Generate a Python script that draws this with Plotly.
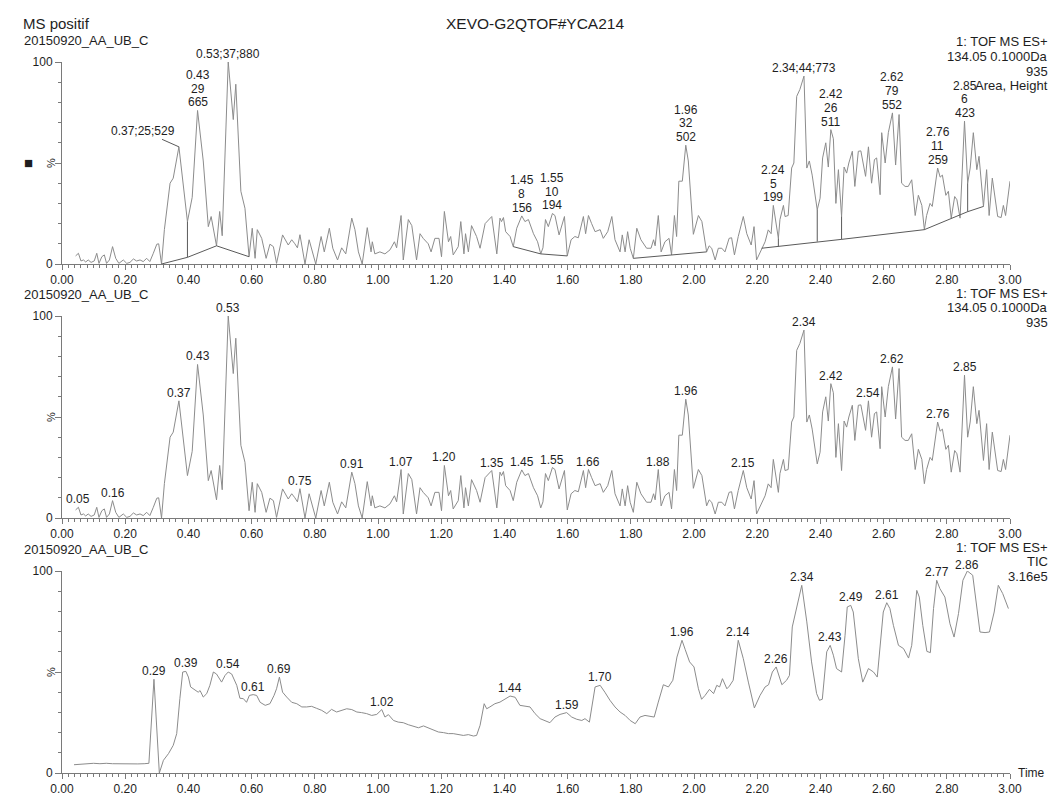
import numpy as np
import plotly.graph_objects as go

W, H = 1057, 796

# ---------------- data ----------------
# Extracted ion chromatogram 134.05 (panels 1 and 2), time (min) / relative intensity (%)
xic_time = [0.043, 0.052, 0.060, 0.068, 0.075, 0.083, 0.092, 0.102, 0.110, 0.117, 0.126, 0.134, 0.141, 0.150,
            0.160, 0.170, 0.180, 0.194, 0.205, 0.215, 0.226, 0.236, 0.247, 0.257, 0.268, 0.278, 0.289, 0.300,
            0.306, 0.315, 0.324, 0.342, 0.352, 0.370, 0.397, 0.412, 0.429, 0.440, 0.447, 0.463, 0.472, 0.489,
            0.499, 0.507, 0.526, 0.542, 0.550, 0.566, 0.579, 0.592, 0.602, 0.611, 0.618, 0.632, 0.646, 0.658,
            0.669, 0.679, 0.698, 0.716, 0.727, 0.737, 0.745, 0.753, 0.769, 0.782, 0.793, 0.803, 0.820, 0.830,
            0.846, 0.857, 0.872, 0.885, 0.898, 0.917, 0.927, 0.938, 0.950, 0.966, 0.978, 0.982, 0.990, 1.006,
            1.022, 1.038, 1.052, 1.059, 1.073, 1.080, 1.096, 1.107, 1.122, 1.133, 1.143, 1.159, 1.168, 1.180,
            1.193, 1.201, 1.210, 1.223, 1.230, 1.238, 1.254, 1.262, 1.272, 1.277, 1.286, 1.296, 1.312, 1.323,
            1.339, 1.355, 1.360, 1.376, 1.386, 1.391, 1.397, 1.404, 1.418, 1.428, 1.439, 1.455, 1.465, 1.476,
            1.492, 1.505, 1.515, 1.522, 1.530, 1.539, 1.552, 1.560, 1.573, 1.590, 1.599, 1.611, 1.623, 1.634,
            1.650, 1.657, 1.666, 1.676, 1.687, 1.703, 1.713, 1.727, 1.740, 1.750, 1.766, 1.773, 1.782, 1.790,
            1.798, 1.808, 1.819, 1.832, 1.850, 1.864, 1.872, 1.877, 1.887, 1.896, 1.908, 1.921, 1.929, 1.938,
            1.945, 1.952, 1.963, 1.974, 1.982, 1.998, 2.014, 2.025, 2.040, 2.048, 2.056, 2.067, 2.077, 2.088,
            2.098, 2.111, 2.119, 2.128, 2.140, 2.156, 2.167, 2.181, 2.190, 2.198, 2.214, 2.225, 2.235, 2.244,
            2.251, 2.259, 2.267, 2.272, 2.283, 2.288, 2.298, 2.309, 2.316, 2.325, 2.335, 2.348, 2.357, 2.365,
            2.374, 2.390, 2.399, 2.407, 2.417, 2.425, 2.433, 2.441, 2.449, 2.457, 2.467, 2.475, 2.483, 2.490,
            2.501, 2.509, 2.520, 2.528, 2.536, 2.543, 2.552, 2.562, 2.571, 2.578, 2.589, 2.594, 2.605, 2.615,
            2.628, 2.638, 2.649, 2.657, 2.668, 2.678, 2.689, 2.700, 2.710, 2.721, 2.729, 2.736, 2.747, 2.754,
            2.771, 2.779, 2.786, 2.797, 2.805, 2.814, 2.825, 2.832, 2.842, 2.856, 2.866, 2.874, 2.884, 2.895,
            2.902, 2.916, 2.926, 2.934, 2.944, 2.953, 2.961, 2.972, 2.979, 2.986, 3.000]
xic_pct = [4.0, 5.3, 1.5, 2.0, 1.0, 2.0, 0.8, 1.5, 5.3, 0.3, 3.6, 4.5, 0.3, 2.0,
           8.6, 2.8, 0.3, 2.0, 0.3, 0.8, 2.5, 1.5, 2.0, 1.2, 2.8, 1.2, 5.3, 9.8,
           10.0, 0.0, 17.0, 40.0, 42.5, 58.0, 21.0, 33.0, 76.0, 62.0, 51.0, 18.5, 23.5, 9.0,
           26.0, 14.0, 100.0, 71.5, 89.0, 36.0, 27.6, 3.6, 17.7, 2.8, 17.0, 12.7, 2.8, 9.8,
           8.6, 0.3, 14.4, 9.4, 12.0, 10.0, 8.0, 14.5, 0.0, 12.0, 6.0, 0.0, 13.6, 6.0,
           17.7, 7.8, 2.0, 8.0, 5.0, 22.7, 17.0, 6.0, 0.0, 18.0, 6.0, 11.0, 5.0, 6.0,
           5.0, 7.0, 11.0, 8.0, 24.0, 2.0, 22.0, 19.0, 2.0, 15.0, 12.7, 10.0, 6.0, 12.7,
           12.7, 3.6, 26.0, 11.0, 13.6, 4.5, 8.6, 21.0, 5.0, 15.0, 6.0, 19.0, 13.6, 7.8,
           20.0, 22.7, 23.5, 5.0, 22.7, 21.0, 23.0, 16.0, 13.6, 8.6, 17.7, 23.8, 21.0, 22.0,
           15.0, 11.0, 5.0, 8.0, 22.0, 18.5, 25.0, 24.0, 14.4, 23.5, 4.0, 12.0, 13.6, 13.0,
           23.5, 15.0, 24.0, 20.0, 16.0, 17.0, 12.7, 16.0, 23.5, 12.0, 6.0, 14.4, 6.0, 16.0,
           7.8, 2.8, 17.7, 12.0, 7.8, 7.8, 12.0, 9.0, 24.0, 6.0, 11.0, 12.7, 4.5, 24.0,
           13.6, 41.0, 41.0, 58.8, 51.0, 14.7, 24.0, 21.0, 6.0, 9.0, 7.8, 2.0, 7.8, 7.8,
           6.0, 12.7, 13.0, 4.5, 13.6, 23.5, 15.0, 9.4, 18.5, 2.0, 7.8, 11.0, 16.9, 15.0,
           29.0, 21.0, 12.7, 22.0, 29.0, 23.5, 24.0, 47.5, 50.0, 83.0, 86.4, 93.0, 47.5, 51.0,
           44.0, 26.8, 32.6, 52.5, 60.0, 48.0, 66.5, 62.0, 30.0, 46.7, 23.5, 48.0, 45.0, 50.0,
           55.8, 38.4, 55.8, 56.0, 49.0, 43.4, 58.0, 40.0, 51.7, 52.5, 34.3, 65.0, 50.0, 65.0,
           74.8, 49.0, 74.0, 40.0, 38.4, 38.4, 41.7, 24.0, 34.0, 29.0, 17.0, 24.0, 30.0, 28.5,
           47.5, 43.0, 44.0, 34.0, 36.0, 22.7, 33.4, 31.8, 22.7, 70.7, 40.0, 47.5, 65.0, 46.7,
           53.3, 28.5, 46.7, 24.0, 42.5, 33.4, 23.5, 23.0, 29.0, 24.0, 41.0]

# TIC (panel 3)
tic_time = [0.038, 0.060, 0.080, 0.100, 0.120, 0.140, 0.160, 0.180, 0.200, 0.220, 0.240, 0.260, 0.275, 0.291,
            0.308, 0.321, 0.337, 0.352, 0.363, 0.373, 0.382, 0.392, 0.400, 0.407, 0.421, 0.431, 0.437, 0.447,
            0.458, 0.468, 0.479, 0.489, 0.505, 0.516, 0.526, 0.537, 0.553, 0.563, 0.574, 0.584, 0.593, 0.605,
            0.616, 0.627, 0.643, 0.658, 0.671, 0.679, 0.688, 0.698, 0.711, 0.727, 0.743, 0.759, 0.774, 0.790,
            0.806, 0.822, 0.838, 0.853, 0.869, 0.885, 0.901, 0.917, 0.933, 0.948, 0.964, 0.980, 0.996, 1.012,
            1.022, 1.033, 1.049, 1.064, 1.080, 1.096, 1.112, 1.128, 1.144, 1.159, 1.175, 1.191, 1.207, 1.223,
            1.238, 1.254, 1.270, 1.286, 1.302, 1.312, 1.323, 1.336, 1.344, 1.354, 1.370, 1.386, 1.402, 1.418,
            1.434, 1.449, 1.481, 1.497, 1.513, 1.529, 1.544, 1.560, 1.576, 1.597, 1.613, 1.629, 1.645, 1.655,
            1.669, 1.687, 1.703, 1.718, 1.734, 1.750, 1.766, 1.782, 1.798, 1.814, 1.829, 1.845, 1.861, 1.874,
            1.887, 1.903, 1.919, 1.933, 1.946, 1.962, 1.972, 1.986, 2.000, 2.014, 2.024, 2.035, 2.049, 2.062,
            2.072, 2.081, 2.090, 2.104, 2.112, 2.124, 2.140, 2.156, 2.172, 2.191, 2.209, 2.225, 2.236, 2.248,
            2.260, 2.267, 2.278, 2.293, 2.302, 2.311, 2.325, 2.341, 2.357, 2.372, 2.388, 2.397, 2.406, 2.420,
            2.431, 2.441, 2.451, 2.467, 2.478, 2.485, 2.496, 2.504, 2.520, 2.534, 2.541, 2.552, 2.568, 2.580,
            2.599, 2.610, 2.620, 2.631, 2.647, 2.663, 2.679, 2.689, 2.705, 2.713, 2.724, 2.737, 2.748, 2.758,
            2.768, 2.778, 2.794, 2.810, 2.823, 2.837, 2.851, 2.865, 2.882, 2.895, 2.905, 2.921, 2.935, 2.950,
            2.963, 2.977, 2.995]
tic_pct = [4.1, 4.3, 4.6, 4.8, 4.6, 4.8, 4.6, 4.5, 4.5, 4.6, 4.5, 4.6, 4.8, 46.4,
           0.0, 6.3, 9.6, 13.7, 19.5, 36.8, 50.0, 50.3, 47.5, 42.6, 41.0, 40.0, 40.8, 37.6,
           39.3, 43.4, 50.0, 49.0, 45.0, 48.3, 50.0, 49.0, 43.4, 37.0, 36.8, 35.0, 38.4, 38.8,
           38.4, 35.0, 33.5, 34.3, 38.4, 41.7, 47.5, 40.0, 37.6, 35.0, 34.3, 32.7, 32.7, 33.0,
           32.0, 31.0, 29.4, 31.5, 30.2, 31.0, 31.8, 31.4, 30.2, 29.9, 29.4, 28.5, 29.0, 31.4,
           27.7, 28.9, 26.0, 25.2, 24.9, 23.9, 23.3, 22.4, 23.3, 22.3, 21.1, 20.3, 20.0, 19.5,
           19.5, 19.0, 18.6, 19.0, 18.3, 18.6, 23.6, 34.3, 31.8, 32.7, 34.3, 35.1, 36.8, 38.1,
           37.5, 33.5, 32.7, 29.4, 26.9, 26.0, 24.9, 27.7, 29.0, 29.9, 27.7, 26.6, 26.0, 26.9,
           25.2, 42.6, 43.4, 40.0, 36.0, 32.7, 30.2, 28.5, 26.0, 24.4, 27.7, 28.5, 28.2, 27.7,
           35.1, 43.7, 42.6, 45.9, 57.4, 65.7, 61.2, 55.0, 52.5, 41.7, 36.5, 38.4, 41.4, 39.3,
           43.4, 42.6, 46.7, 41.7, 43.0, 45.9, 65.7, 56.6, 45.0, 32.2, 38.4, 42.6, 43.7, 50.0,
           52.5, 49.0, 43.7, 45.9, 48.3, 72.3, 81.4, 92.9, 74.8, 55.0, 39.3, 36.0, 36.5, 60.0,
           63.2, 58.3, 51.7, 50.0, 68.2, 82.2, 83.0, 79.7, 56.6, 45.0, 47.5, 51.7, 50.0, 47.5,
           79.7, 84.3, 81.4, 73.1, 63.2, 61.6, 56.9, 63.2, 90.4, 87.1, 73.1, 60.2, 59.6, 81.4,
           95.4, 91.3, 87.1, 73.9, 67.3, 78.9, 95.4, 100.0, 97.9, 81.4, 69.8, 69.5, 69.8, 79.7,
           92.9, 88.8, 81.4]

# Peak labels
p1_peak_times = [0.37, 0.43, 0.53, 1.45, 1.55, 1.96, 2.24, 2.34, 2.42, 2.62, 2.76, 2.85]
p1_peak_texts = [["0.37;25;529"], ["0.43", "29", "665"], ["0.53;37;880"], ["1.45", "8", "156"],
                 ["1.55", "10", "194"], ["1.96", "32", "502"], ["2.24", "5", "199"], ["2.34;44;773"],
                 ["2.42", "26", "511"], ["2.62", "79", "552"], ["2.76", "11", "259"], ["2.85", "6", "423"]]
p2_peak_times = [0.05, 0.16, 0.37, 0.43, 0.53, 0.75, 0.91, 1.07, 1.20, 1.35, 1.45, 1.55, 1.66, 1.88,
                 1.96, 2.15, 2.34, 2.42, 2.54, 2.62, 2.76, 2.85]
tic_peak_times = [0.29, 0.39, 0.54, 0.61, 0.69, 1.02, 1.44, 1.59, 1.70, 1.96, 2.14, 2.26, 2.34, 2.43,
                  2.49, 2.61, 2.77, 2.86]

# Integration baselines in panel 1 (None separates segments)
bl_time = [0.315, 0.397, 0.489, 0.592, None, 1.428, 1.515, 1.599, None, 1.808, 2.040, None,
           2.214, 2.267, 2.390, 2.467, 2.729, 2.814, 2.866, 2.916]
bl_pct = [0.0, 3.3, 9.0, 3.6, None, 8.6, 5.0, 4.0, None, 2.8, 6.0, None,
          7.8, 8.7, 11.1, 12.2, 17.0, 22.7, 25.9, 28.5]
drop_time = [0.397, 2.267, 2.390, 2.467, 2.866]
drop_base = [3.3, 8.7, 11.1, 12.2, 25.9]

ticks_x = [round(0.2 * i, 2) for i in range(16)]

header_title = "XEVO-G2QTOF#YCA214"
header_left = "MS positif"
dataset_name = "20150920_AA_UB_C"
p1_info = ["1: TOF MS ES+", "134.05 0.1000Da", "935", "Area, Height"]
p2_info = ["1: TOF MS ES+", "134.05 0.1000Da", "935"]
p3_info = ["1: TOF MS ES+", "TIC", "3.16e5"]

# ---------------- style ----------------
FONT = "Arial, 'Liberation Sans', Helvetica, sans-serif"
TXT = "#1e1e1e"
AX = "#7a7a7a"
LINE = "#8c8c8c"
BASE = "#5a5a5a"

X_L, X_R = 62, 1010
panels = [  # (y pixel of 0, y pixel of 100)
    (264, 62),
    (518, 316),
    (773, 571),
]
info_top = [42, 293, 547]


def px_x(p):
    return p / W


def px_y(p):
    return 1 - p / H


fig = go.Figure()

xic_t = np.array(xic_time)
xic_v = np.array(xic_pct)
tic_t = np.array(tic_time)
tic_v = np.array(tic_pct)

# traces
fig.add_trace(go.Scatter(x=xic_t, y=xic_v, mode="lines", line=dict(color=LINE, width=1),
                         xaxis="x", yaxis="y", hoverinfo="skip"))
fig.add_trace(go.Scatter(x=bl_time, y=bl_pct, mode="lines", line=dict(color=BASE, width=1),
                         connectgaps=False, xaxis="x", yaxis="y", hoverinfo="skip"))
dx, dy = [], []
for t, b in zip(drop_time, drop_base):
    dx += [t, t, None]
    dy += [b, float(np.interp(t, xic_t, xic_v)), None]
fig.add_trace(go.Scatter(x=dx, y=dy, mode="lines", line=dict(color=BASE, width=1),
                         xaxis="x", yaxis="y", hoverinfo="skip"))
fig.add_trace(go.Scatter(x=xic_t, y=xic_v, mode="lines", line=dict(color=LINE, width=1),
                         xaxis="x2", yaxis="y2", hoverinfo="skip"))
fig.add_trace(go.Scatter(x=tic_t, y=tic_v, mode="lines", line=dict(color=LINE, width=1),
                         xaxis="x3", yaxis="y3", hoverinfo="skip"))

layout = dict(width=W, height=H, margin=dict(l=0, r=0, t=0, b=0, pad=0),
              paper_bgcolor="white", plot_bgcolor="white", showlegend=False,
              template="none", font=dict(family=FONT, size=12, color=TXT))

for i, (y0, y100) in enumerate(panels):
    sfx = "" if i == 0 else str(i + 1)
    layout["xaxis" + sfx] = dict(
        domain=[px_x(X_L), px_x(X_R)], range=[0, 3.0], anchor="y" + sfx,
        showline=True, linecolor=AX, linewidth=1, mirror=False,
        ticks="outside", ticklen=5, tickwidth=1, tickcolor=AX,
        tickvals=ticks_x, ticktext=[f"{v:.2f}" for v in ticks_x],
        tickfont=dict(size=12, color=TXT, family=FONT),
        showgrid=False, zeroline=False, automargin=False, fixedrange=True,
        minor=dict(dtick=0.02, tick0=0, ticks="outside", ticklen=3, tickwidth=1,
                   tickcolor=AX, showgrid=False),
    )
    layout["yaxis" + sfx] = dict(
        domain=[px_y(y0), px_y(y100)], range=[0, 100], anchor="x" + sfx,
        showline=True, linecolor=AX, linewidth=1,
        ticks="outside", ticklen=6, tickwidth=1, tickcolor=AX,
        tickvals=[0, 50, 100], ticktext=["0", "", "100"],
        tickfont=dict(size=12, color=TXT, family=FONT),
        showgrid=False, zeroline=False, automargin=False, fixedrange=True,
        minor=dict(dtick=10, tick0=0, ticks="outside", ticklen=3, tickwidth=1,
                   tickcolor=AX, showgrid=False),
    )

annotations = []


def txt(x, y, s, size=12, xanchor="center", yanchor="middle", xref="paper", yref="paper", **kw):
    d = dict(x=x, y=y, text=s, xref=xref, yref=yref, xanchor=xanchor, yanchor=yanchor,
             showarrow=False, font=dict(size=size, color=TXT, family=FONT))
    d.update(kw)
    annotations.append(d)


def peak(times, vals, t0, w=0.025):
    m = np.abs(times - t0) <= w
    idx = np.where(m)[0]
    j = idx[np.argmax(vals[idx])]
    return float(times[j]), float(vals[j])


LH = 13.8
# headers
txt(px_x(21), px_y(23), header_left, size=15, xanchor="left")
txt(px_x(535), px_y(23), header_title, size=15.5)
for i, ((y0, y100), info) in enumerate(zip(panels, [p1_info, p2_info, p3_info])):
    ytop = info_top[i]
    sfx = "" if i == 0 else str(i + 1)
    txt(px_x(22), px_y(y100 - 22), dataset_name, size=13, xanchor="left")
    for k, line in enumerate(info):
        txt(px_x(1050), px_y(ytop + k * 14.6), line, size=13, xanchor="right")
    txt(px_x(51), 50, "%", size=11, xref="paper", yref="y" + sfx, textangle=-90)

txt(px_x(28), 50, "■", size=15, yref="y")
txt(px_x(1016), 0, "Time", size=12, xanchor="left", yref="y3")

# panel 1 labels
for t0, lines in zip(p1_peak_times, p1_peak_texts):
    t, v = peak(xic_t, xic_v, t0)
    if lines[0].startswith("0.37"):
        annotations.append(dict(x=t, y=v, xref="x", yref="y", text=lines[0], showarrow=True,
                                ax=-36, ay=-16, arrowhead=0, arrowwidth=1, arrowcolor=BASE,
                                standoff=0, font=dict(size=12, color=TXT, family=FONT)))
        continue
    n = len(lines)
    for k, line in enumerate(lines):
        txt(t, v, line, size=12, xref="x", yref="y", yanchor="bottom",
            yshift=-1 + (n - 1 - k) * LH)

# panel 2 labels
for t0 in p2_peak_times:
    t, v = peak(xic_t, xic_v, t0)
    txt(t, v, f"{t0:.2f}", size=12, xref="x2", yref="y2", yanchor="bottom", yshift=-1)

# panel 3 labels
for t0 in tic_peak_times:
    t, v = peak(tic_t, tic_v, t0)
    txt(t, v, f"{t0:.2f}", size=12, xref="x3", yref="y3", yanchor="bottom",
        yshift=-3 if v >= 99 else -1)

layout["annotations"] = annotations
fig.update_layout(**layout)

fig.write_html("out.html", include_plotlyjs=True, full_html=True,
               config={"staticPlot": True},
               post_script="document.body.style.margin='0';document.body.style.overflow='hidden';")
